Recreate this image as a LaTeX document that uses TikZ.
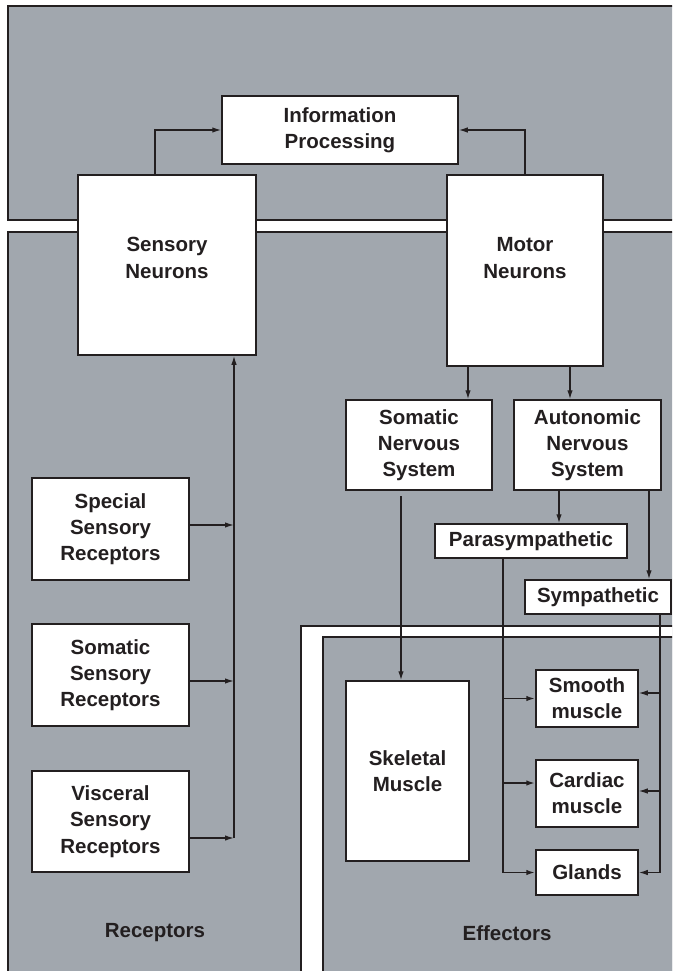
\documentclass[tikz,border=0pt]{standalone}
\usepackage{fontspec}
\setmainfont{Liberation Sans}
\usetikzlibrary{arrows.meta}
\definecolor{panel}{RGB}{161,167,174}
\definecolor{ink}{RGB}{35,31,32}
\begin{document}
\begin{tikzpicture}[x=1pt,y=-1pt,
  panelbox/.style={fill=panel,draw=ink,line width=1.7pt},
  gapbox/.style={fill=white,draw=ink,line width=1.7pt},
  lbl/.style={align=center,text=ink,inner sep=0pt,
    font=\fontsize{20.5}{26.3}\selectfont\bfseries},
  box/.style={lbl,draw=ink,fill=white,line width=1.5pt},
  link/.style={draw=ink,line width=1.4pt},
  arr/.style={link,-{Latex[length=9pt,width=5.5pt]}},
  heavyarr/.style={arr,line width=1.9pt},
  thinarr/.style={arr,line width=1.2pt}
]
% page and clipping
\fill[white] (0,0) rectangle (672,971);
\useasboundingbox (0,0) rectangle (672,971);
\clip (0,0) rectangle (672,971);

% panels: central processing, peripheral, effectors
\path[panelbox] (8,6) rectangle (700,220);
\path[panelbox] (8,232) rectangle (700,1000);
\path[gapbox] (301,626) rectangle (700,1000);
\path[panelbox] (323,637) rectangle (700,1000);

% central boxes
\node[box,minimum width=236pt,minimum height=68pt] (info) at (340,130) {Information\\Processing};
\node[box,minimum width=178pt,minimum height=180pt] (sn) at (167,265) {};
\node[lbl] (snt) at (167,258) {Sensory\\Neurons};
\node[box,minimum width=156pt,minimum height=191pt] (mn) at (525,270.5) {};
\node[lbl] (mnt) at (525,258) {Motor\\Neurons};

% motor branches
\node[box,minimum width=146pt,minimum height=90pt] (sns) at (419,445) {Somatic\\Nervous\\System};
\node[box,minimum width=147pt,minimum height=90pt] (ans) at (587.5,445) {Autonomic\\Nervous\\System};
\node[box,minimum width=192pt,minimum height=34pt] (para) at (531,541) {Parasympathetic};
\node[box,minimum width=146pt,minimum height=34pt] (symp) at (598,597) {Sympathetic};

% effectors
\node[box,minimum width=123pt,minimum height=180pt] (skel) at (407.5,771) {Skeletal\\Muscle};
\node[box,minimum width=102pt,minimum height=57pt] (smooth) at (587,698.5) {Smooth\\muscle};
\node[box,minimum width=102pt,minimum height=67pt] (cardiac) at (587,793.5) {Cardiac\\muscle};
\node[box,minimum width=102pt,minimum height=45pt] (glands) at (587,872.5) {Glands};

% receptors
\node[box,minimum width=157pt,minimum height=102pt] (ssr) at (110.5,529) {Special\\Sensory\\Receptors};
\node[box,minimum width=157pt,minimum height=102pt] (somr) at (110.5,675) {Somatic\\Sensory\\Receptors};
\node[box,minimum width=157pt,minimum height=101pt] (visr) at (110.5,821.5) {Visceral\\Sensory\\Receptors};

% panel captions
\node[lbl] (rec) at (155,933) {Receptors};
\node[lbl] (eff) at (507,933) {Effectors};

% routing points
\coordinate (sx) at (155,0);
\coordinate (m1) at (468,0);
\coordinate (m2) at (570,0);
\coordinate (a1) at (559,0);
\coordinate (a2) at (649,0);
\coordinate (s1) at (401,496);
\coordinate (p1) at (503,0);
\coordinate (pc) at (503,783);
\coordinate (y1) at (660,0);
\coordinate (ys) at (660,693);
\coordinate (yc) at (660,791);
\coordinate (j1) at (234,525);
\coordinate (j2) at (234,681);
\coordinate (j3) at (234,838);

% to information processing
\draw[arr] (sn.north -| sx) |- (info.west);
\draw[arr] (mn.north) |- (info.east);

% motor pathways
\draw[arr] (mn.south -| m1) -- (sns.north -| m1);
\draw[arr] (mn.south -| m2) -- (ans.north -| m2);
\draw[arr] (ans.south -| a1) -- (para.north -| a1);
\draw[arr] (ans.south -| a2) -- (symp.north -| a2);
\draw[arr] (s1) -- (s1 |- skel.north);

% parasympathetic outputs
\draw[heavyarr] (para.south -| p1) |- (glands.west);
\draw[heavyarr] (p1 |- smooth.west) -- (smooth.west);
\draw[heavyarr] (pc) -- (cardiac.west |- pc);

% sympathetic outputs
\draw[arr] (symp.south -| y1) |- (glands.east);
\draw[thinarr] (ys) -- (smooth.east |- ys);
\draw[thinarr] (yc) -- (cardiac.east |- yc);

% sensory inputs
\draw[arr] (ssr.east |- j1) -- (j1);
\draw[arr] (somr.east |- j2) -- (j2);
\draw[arr] (visr.east |- j3) -- (j3);
\draw[arr] (j3) -- (j3 |- sn.south);
\end{tikzpicture}
\end{document}
